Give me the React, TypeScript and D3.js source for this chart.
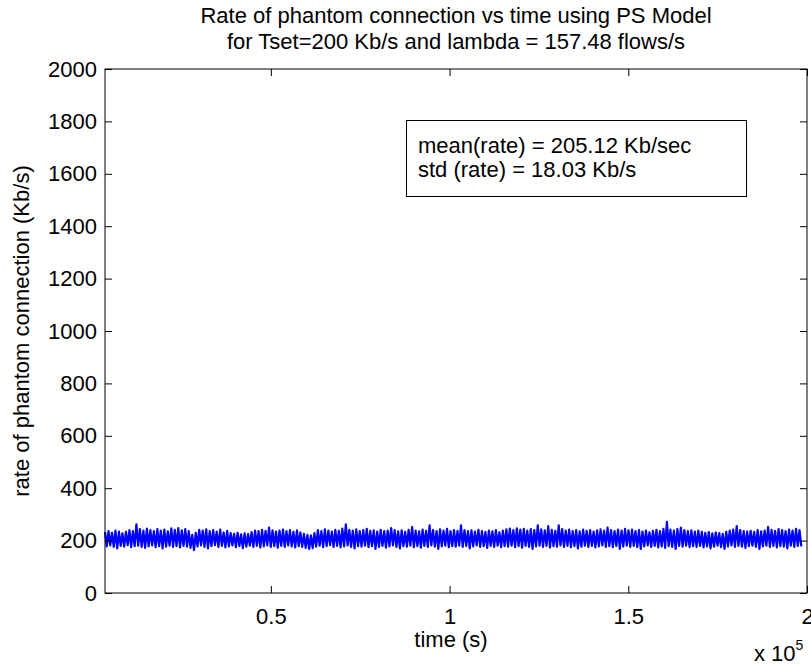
import { useRef, useEffect } from 'react';
import * as d3 from 'd3';

const rate = [
  232, 178, 236, 182, 230, 176, 238, 170, 234, 180, 228, 177, 233, 183, 240, 175, 236, 179, 262, 181,
  244, 176, 238, 172, 246, 178, 240, 182, 236, 175, 244, 179, 238, 170, 242, 177, 235, 181, 247, 176,
  241, 179, 248, 174, 239, 180, 244, 177, 236, 172, 222, 164, 230, 178, 241, 182, 238, 176, 243, 170,
  236, 179, 240, 183, 234, 176, 242, 180, 231, 174, 237, 178, 229, 182, 226, 175, 230, 179, 224, 171,
  228, 177, 225, 181, 232, 176, 238, 180, 236, 174, 241, 178, 237, 182, 250, 176, 239, 179, 234, 173,
  238, 180, 242, 176, 236, 182, 240, 178, 233, 174, 239, 179, 231, 176, 226, 172, 222, 168, 220, 171,
  229, 177, 240, 181, 236, 175, 243, 179, 238, 183, 234, 176, 241, 180, 237, 174, 246, 178, 262, 182,
  241, 176, 238, 170, 243, 179, 236, 177, 240, 181, 245, 175, 237, 179, 239, 168, 234, 176, 241, 180,
  236, 173, 238, 178, 248, 182, 240, 176, 235, 170, 239, 179, 233, 177, 241, 181, 252, 175, 238, 179,
  235, 173, 242, 180, 237, 176, 258, 182, 240, 177, 236, 168, 243, 178, 238, 181, 245, 175, 236, 179,
  240, 177, 237, 181, 258, 176, 240, 180, 236, 170, 239, 178, 234, 182, 241, 176, 236, 179, 233, 172,
  238, 180, 235, 176, 240, 181, 232, 175, 238, 179, 243, 177, 246, 181, 240, 175, 247, 179, 242, 173,
  245, 180, 238, 176, 244, 168, 240, 178, 258, 181, 243, 176, 239, 180, 255, 174, 241, 179, 237, 177,
  258, 182, 244, 176, 238, 180, 242, 175, 236, 179, 240, 170, 235, 177, 242, 181, 237, 176, 240, 180,
  234, 174, 239, 178, 243, 182, 238, 176, 250, 179, 240, 175, 236, 180, 242, 168, 238, 177, 245, 181,
  239, 176, 242, 180, 236, 175, 240, 168, 234, 178, 238, 182, 232, 176, 237, 180, 241, 174, 236, 178,
  245, 172, 272, 179, 242, 176, 238, 168, 244, 180, 250, 177, 240, 181, 236, 175, 239, 179, 234, 176,
  238, 180, 233, 174, 230, 178, 232, 170, 228, 177, 231, 181, 229, 175, 226, 168, 233, 178, 238, 182,
  242, 176, 255, 180, 240, 177, 236, 172, 234, 179, 237, 181, 233, 176, 240, 168, 235, 178, 238, 181,
  252, 176, 241, 180, 237, 174, 244, 179, 240, 177, 236, 170, 242, 181, 238, 176, 245, 180, 240, 178,
];

const timeStart = 3600;
const timeEnd = 198400;
const xDomain = [3600, 200000];
const yDomain = [0, 2000];
const xTicks = [50000, 100000, 150000, 200000];
const yTicks = [0, 200, 400, 600, 800, 1000, 1200, 1400, 1600, 1800, 2000];

const titleLines = [
  'Rate of phantom connection vs time using PS Model',
  'for Tset=200 Kb/s and lambda = 157.48 flows/s',
];
const statLines = ['mean(rate) = 205.12 Kb/sec', 'std (rate) = 18.03 Kb/s'];

export default function App() {
  const svgRef = useRef<SVGSVGElement>(null);

  useEffect(() => {
    const svg = d3.select(svgRef.current);
    svg.selectAll('*').remove();

    const width = 811;
    const height = 666;
    const margin = { top: 69, right: 4, bottom: 73, left: 105 };
    const font = "'Liberation Sans', Arial, Helvetica, sans-serif";
    const fs = 22;

    const x = d3.scaleLinear().domain(xDomain).range([margin.left, width - margin.right]);
    const y = d3.scaleLinear().domain(yDomain).range([height - margin.bottom, margin.top]);

    svg.append('rect').attr('width', width).attr('height', height).attr('fill', '#fff');

    // the series
    const step = (timeEnd - timeStart) / (rate.length - 1);
    const line = d3.line<number>()
      .x((_, i) => x(timeStart + i * step))
      .y(d => y(d));

    svg.append('path')
      .datum(rate)
      .attr('d', line)
      .attr('fill', 'none')
      .attr('stroke', '#0000ff')
      .attr('stroke-width', 2.2)
      .attr('stroke-linejoin', 'round');

    // axes, ticks pointing inward on all four sides
    const fmtX = (d: d3.NumberValue) => String(+d / 1e5);
    const fmtY = (d: d3.NumberValue) => String(d);

    const gBottom = svg.append('g')
      .attr('transform', `translate(0,${y(0)})`)
      .call(d3.axisBottom(x).tickValues(xTicks).tickSizeInner(-7).tickSizeOuter(0).tickPadding(15).tickFormat(fmtX));
    const gLeft = svg.append('g')
      .attr('transform', `translate(${x(xDomain[0])},0)`)
      .call(d3.axisLeft(y).tickValues(yTicks).tickSizeInner(-7).tickSizeOuter(0).tickPadding(8).tickFormat(fmtY));
    const gTop = svg.append('g')
      .attr('transform', `translate(0,${y(2000)})`)
      .call(d3.axisTop(x).tickValues(xTicks).tickSizeInner(-7).tickSizeOuter(0).tickFormat(() => ''));
    const gRight = svg.append('g')
      .attr('transform', `translate(${x(xDomain[1])},0)`)
      .call(d3.axisRight(y).tickValues(yTicks).tickSizeInner(-7).tickSizeOuter(0).tickFormat(() => ''));

    [gBottom, gLeft, gTop, gRight].forEach(g => {
      g.select('.domain').remove();
      g.selectAll('line').attr('stroke', '#000');
      g.selectAll('text').attr('fill', '#000').attr('font-family', font).attr('font-size', fs);
    });

    svg.append('rect')
      .attr('x', x(xDomain[0]))
      .attr('y', y(2000))
      .attr('width', x(xDomain[1]) - x(xDomain[0]))
      .attr('height', y(0) - y(2000))
      .attr('fill', 'none')
      .attr('stroke', '#000')
      .attr('stroke-width', 1);

    // title
    titleLines.forEach((t, i) => {
      svg.append('text')
        .attr('x', 456)
        .attr('y', 23 + i * 26)
        .attr('text-anchor', 'middle')
        .attr('font-family', font)
        .attr('font-size', fs)
        .text(t);
    });

    // axis labels
    svg.append('text')
      .attr('x', 451)
      .attr('y', 647)
      .attr('text-anchor', 'middle')
      .attr('font-family', font)
      .attr('font-size', fs)
      .text('time (s)');

    const mult = svg.append('text')
      .attr('x', 754)
      .attr('y', 661)
      .attr('font-family', font)
      .attr('font-size', fs);
    mult.append('tspan').text('x 10');
    mult.append('tspan').attr('dy', -11).attr('font-size', 14).text('5');

    svg.append('text')
      .attr('transform', `translate(29,${(y(0) + y(2000)) / 2}) rotate(-90)`)
      .attr('text-anchor', 'middle')
      .attr('font-family', font)
      .attr('font-size', fs)
      .text('rate of phantom connection (Kb/s)');

    // statistics box
    svg.append('rect')
      .attr('x', 406.5)
      .attr('y', 120.5)
      .attr('width', 340)
      .attr('height', 76)
      .attr('fill', '#fff')
      .attr('stroke', '#000')
      .attr('stroke-width', 1);
    statLines.forEach((t, i) => {
      svg.append('text')
        .attr('x', 418)
        .attr('y', 153 + i * 24)
        .attr('font-family', font)
        .attr('font-size', fs)
        .text(t);
    });
  }, []);

  return (
    <svg
      ref={svgRef}
      width={811}
      height={666}
      style={{ position: 'absolute', left: 0, top: 0, display: 'block' }}
    />
  );
}
